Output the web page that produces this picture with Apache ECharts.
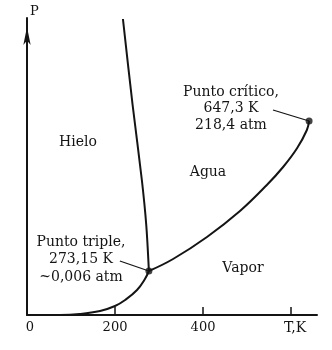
<!DOCTYPE html>
<html>
<head>
<meta charset="utf-8">
<script src="https://cdn.jsdelivr.net/npm/echarts@6/dist/echarts.min.js"></script>
<style>html,body{margin:0;padding:0;background:#fff}#c{width:332px;height:350px}</style>
</head>
<body>
<div id="c"></div>
<script>
// Temperature (K) and schematic pressure (arbitrary units)
const sublimationT = [7, 75, 120, 166, 200, 223, 250, 268, 277];
const sublimationP = [0, 0, 1, 4, 9, 15, 25, 36, 44];
const vaporizationT = [277, 332, 409, 484, 545, 582, 614, 636, 641];
const vaporizationP = [44, 56, 78, 104, 130, 148, 167, 185, 194];
const meltingT = [277, 271, 261, 240, 218];
const meltingP = [44, 90, 135, 210, 296];
const triplePoint = [277, 44];
const criticalPoint = [641, 194];
const tripleLeaderStart = [211, 54];
const criticalLeaderStart = [559, 205];
const xTickValues = [200, 400, 600];
const xLabelValues = [0, 200, 400, 600];
const xLabelTexts = {0: '0', 200: '200', 400: '400', 600: 'T,K'};
const regionTexts = ['Hielo', 'Agua', 'Vapor'];
const criticalText = ['Punto crítico,', '647,3 K', '218,4 atm'];
const tripleText = ['Punto triple,', '273,15 K', '~0,006 atm'];

const zip = (a, b) => a.map((v, i) => [v, b[i]]);
const ink = '#141414';
const serif = '"DejaVu Serif", "Liberation Serif", serif';

const chart = echarts.init(document.getElementById('c'), null, {renderer: 'canvas'});
const lineBase = {type: 'line', symbol: 'none', silent: true, animation: false};

function txt(text, x, y, lh) {
  return {type: 'text', silent: true, style: {text: text, x: x, y: y, align: 'center', verticalAlign: 'middle',
    font: '14px ' + serif, fill: ink, lineHeight: lh || 17}};
}

chart.setOption({
  animation: false,
  backgroundColor: '#fff',
  grid: {left: 27, right: 15, top: 18, bottom: 35},
  xAxis: {
    type: 'value', min: 0, max: 659,
    axisLine: {show: true, lineStyle: {color: ink, width: 2}},
    axisTick: {show: true, inside: true, length: 8, customValues: xTickValues, lineStyle: {color: ink, width: 1.5}},
    axisLabel: {
      customValues: xLabelValues, margin: 6, color: ink, fontFamily: serif, fontSize: 13,
      formatter: function (v) {
        const t = xLabelTexts[v];
        if (v === 0) return '{z|' + t + '}';
        if (v === 600) return '{t|' + t + '}';
        return t;
      },
      rich: {
        z: {padding: [0, 0, 0, 6], fontFamily: serif, fontSize: 13, color: ink},
        t: {padding: [0, 0, 0, 8], fontFamily: serif, fontSize: 14, color: ink}
      }
    },
    splitLine: {show: false}
  },
  yAxis: {
    type: 'value', min: 0, max: 297,
    name: 'P', nameLocation: 'end', nameGap: 6,
    nameTextStyle: {color: ink, fontFamily: serif, fontSize: 13, align: 'left', verticalAlign: 'middle', padding: [0, 0, 0, 3]},
    axisLine: {show: true, symbol: ['none', 'arrow'], symbolSize: [5.5, 18], symbolOffset: [0, -9], lineStyle: {color: ink, width: 2}},
    axisTick: {show: false},
    axisLabel: {show: false},
    splitLine: {show: false}
  },
  series: [
    Object.assign({}, lineBase, {data: zip(sublimationT, sublimationP), smooth: 0.4, lineStyle: {color: ink, width: 2}}),
    Object.assign({}, lineBase, {data: zip(vaporizationT, vaporizationP), smooth: 0.4, lineStyle: {color: ink, width: 2}}),
    Object.assign({}, lineBase, {data: zip(meltingT, meltingP), smooth: 0.3, clip: false, lineStyle: {color: ink, width: 2}}),
    Object.assign({}, lineBase, {data: [tripleLeaderStart, triplePoint], lineStyle: {color: ink, width: 1.3}}),
    Object.assign({}, lineBase, {data: [criticalLeaderStart, criticalPoint], lineStyle: {color: ink, width: 1.3}}),
    {type: 'scatter', data: [triplePoint, criticalPoint], symbol: 'circle', symbolSize: 7, itemStyle: {color: ink}, silent: true, animation: false}
  ],
  graphic: [
    txt(regionTexts[0], 78, 142),
    txt(regionTexts[1], 208, 172),
    txt(regionTexts[2], 243, 268),
    txt(criticalText.join('\n'), 231, 108.5, 16.5),
    txt(tripleText.join('\n'), 81, 259.5, 17.5)
  ]
});
</script>
</body>
</html>
